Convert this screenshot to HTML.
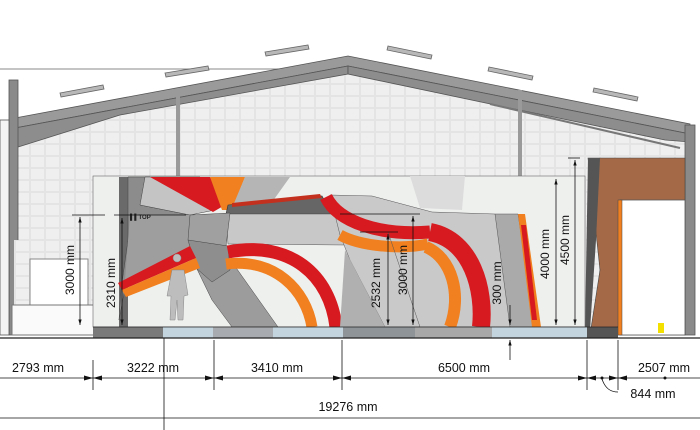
<!DOCTYPE html>
<html><head><meta charset="utf-8"><style>
html,body{margin:0;padding:0;background:#fff;}
svg{display:block;font-family:"Liberation Sans",sans-serif;}
</style></head><body>
<svg width="700" height="430" viewBox="0 0 700 430" xmlns="http://www.w3.org/2000/svg">
<defs>
<pattern id="brick" width="15" height="12" patternUnits="userSpaceOnUse">
<rect width="15" height="12" fill="#e6e6e6"/>
<rect x="0.7" y="0.7" width="13.6" height="10.6" fill="#efefef" stroke="#e2e2e2" stroke-width="0.5"/>
</pattern>
<marker id="ar" viewBox="0 0 10 10" refX="10" refY="5" markerWidth="7" markerHeight="7" orient="auto-start-reverse"><path d="M0,2 L10,5 L0,8z" fill="#111"/></marker>
</defs>
<rect width="700" height="430" fill="#fff"/>
<polygon points="18,130 348,62 688,130 688,335 18,335" fill="url(#brick)"/>
<line x1="0" y1="69" x2="335" y2="69" stroke="#888" stroke-width="1"/>
<g fill="#b8b8b8" stroke="#666" stroke-width="0.8">
<polygon points="60,93 103,85 104,89 61,97"/>
<polygon points="165,73 208,66 209,70 166,77"/>
<polygon points="265,52 308,45 309,49 266,56"/>
<polygon points="388,46 432,55 431,59 387,50"/>
<polygon points="489,67 533,76 532,80 488,71"/>
<polygon points="594,88 638,97 637,101 593,92"/>
</g>
<polygon points="15,118 348,56 690,124 690,134 348,66 15,128" fill="#9a9a9a" stroke="#555" stroke-width="0.8"/>
<polygon points="15,128 348,66 348,74 120,115 15,148" fill="#8d8d8d" stroke="#555" stroke-width="0.8"/>
<polygon points="348,66 690,134 690,142 665,140 500,106 348,74" fill="#8d8d8d" stroke="#555" stroke-width="0.8"/>
<line x1="490" y1="104" x2="680" y2="148" stroke="#777" stroke-width="2"/>
<rect x="9" y="80" width="9" height="255" fill="#8a8a8a" stroke="#555" stroke-width="0.8"/>
<rect x="176" y="90" width="4" height="245" fill="#9a9a9a"/>
<rect x="518" y="90" width="4" height="245" fill="#9a9a9a"/>
<rect x="685" y="125" width="10" height="210" fill="#8a8a8a" stroke="#555" stroke-width="0.8"/>
<rect x="0" y="120" width="9" height="215" fill="#f4f4f4" stroke="#555" stroke-width="0.8"/>
<rect x="14" y="240" width="80" height="95" fill="url(#brick)"/>
<rect x="30" y="259" width="58" height="47" fill="#fff" stroke="#888" stroke-width="1"/>
<rect x="12" y="305" width="84" height="30" fill="#fafafa" stroke="#777" stroke-width="1"/>
<rect x="93" y="176" width="492" height="151" fill="#eef0ee" stroke="#666" stroke-width="0.6"/>
<polygon points="410,176 465,176 462,210 420,208" fill="#dcdcdc"/>
<rect x="119" y="177" width="9" height="150" fill="#6a6a6a"/>
<polygon points="128,177 150,177 140,205 190,215 190,250 125,288 119,320 121,290 128,240" fill="#8c8c8c" stroke="#444" stroke-width="0.5"/>
<polygon points="145,177 200,177 215,210 190,215 140,205" fill="#c4c4c4" stroke="#444" stroke-width="0.5"/>
<polygon points="150,177 210,177 225,205 213,212" fill="#d61a1f"/>
<polygon points="210,177 245,177 232,210 222,210" fill="#f08020"/>
<polygon points="245,177 290,177 270,205 232,208" fill="#b5b5b5"/>
<polygon points="130,215 190,215 190,250 125,280" fill="#9e9e9e"/>
<polygon points="228,205 322,196 332,214 226,214" fill="#666" stroke="#333" stroke-width="0.6"/>
<polygon points="232,203 320,194 322,198 232,207" fill="#c3301e"/>
<polygon points="226,214 340,214 345,245 228,244" fill="#c8c8c8" stroke="#555" stroke-width="0.5"/>
<polygon points="190,215 230,213 226,246 205,252 188,240" fill="#a0a0a0" stroke="#444" stroke-width="0.5"/>
<text x="130" y="219" font-size="6" font-weight="bold" fill="#222">▌▌TOP</text>
<text x="197" y="250" font-size="5" font-weight="bold" fill="#222">TOP</text>
<polygon points="195,265 232,262 278,327 232,327 212,300" fill="#9c9c9c" stroke="#444" stroke-width="0.5"/>
<polygon points="188,240 228,246 230,270 212,282 196,268" fill="#8e8e8e" stroke="#444" stroke-width="0.5"/>
<polygon points="118,283 190,246 196,258 122,290" fill="#d61a1f"/>
<polygon points="122,290 196,258 200,268 126,297" fill="#f08020"/>
<path d="M228,252 C290,240 330,275 336,327" fill="none" stroke="#d61a1f" stroke-width="13"/>
<path d="M226,264 C275,258 306,290 312,327" fill="none" stroke="#f08020" stroke-width="11"/>
<path d="M177,262 a4,4 0 1,1 0.1,0 M172,270 L184,270 L188,295 L184,296 L183,320 L178,320 L177,300 L175,320 L170,320 L171,296 L167,296z" fill="#bdbdbd" stroke="#888" stroke-width="0.5"/>
<polygon points="330,195 372,196 432,212 495,214 528,327 385,327 350,260 340,235" fill="#c9c9c9" stroke="#555" stroke-width="0.5"/>
<polygon points="345,250 385,327 340,327" fill="#b0b0b0"/>
<polygon points="495,214 518,214 535,327 510,327" fill="#aaaaaa" stroke="#555" stroke-width="0.5"/>
<polygon points="518,214 525,214 541,327 532,327" fill="#f08020"/>
<polygon points="521,225 526,225 537,320 532,320" fill="#d61a1f"/>
<path d="M326,197 C338,222 380,236 430,232" fill="none" stroke="#d61a1f" stroke-width="13"/>
<path d="M340,235 C360,246 400,250 428,244" fill="none" stroke="#f08020" stroke-width="11"/>
<path d="M430,232 C472,240 485,290 481,327" fill="none" stroke="#d61a1f" stroke-width="18"/>
<path d="M426,247 C452,258 462,295 450,327" fill="none" stroke="#f08020" stroke-width="12"/>
<line x1="388" y1="232" x2="420" y2="327" stroke="#555" stroke-width="0.5"/>
<polygon points="588,158 685,158 685,335 590,335 600,270" fill="#a46a48" stroke="#444" stroke-width="0.6"/>
<polygon points="588,158 600,158 596,240 590,330 585,330" fill="#555"/>
<rect x="620" y="200" width="65" height="135" fill="#fff" stroke="#555" stroke-width="0.8"/>
<rect x="618" y="200" width="4" height="135" fill="#f08020" stroke="#444" stroke-width="0.5"/>
<rect x="658" y="323" width="6" height="10" fill="#f4e000"/>
<rect x="93" y="327" width="70" height="11" fill="#7a7a7a"/>
<rect x="163" y="327" width="180" height="11" fill="#c4d4de"/>
<rect x="213" y="327" width="60" height="11" fill="#a8acb0"/>
<rect x="343" y="327" width="72" height="11" fill="#8e9498"/>
<rect x="415" y="327" width="80" height="11" fill="#a8a8a8"/>
<rect x="492" y="327" width="95" height="11" fill="#c4d4de"/>
<rect x="587" y="327" width="31" height="11" fill="#555"/>
<line x1="0" y1="338" x2="700" y2="338" stroke="#222" stroke-width="1.2"/>
<line x1="93" y1="327" x2="618" y2="327" stroke="#222" stroke-width="0.8"/>
<g stroke="#111" stroke-width="0.8" fill="none">
<line x1="72" y1="215" x2="105" y2="215"/>
<line x1="80" y1="217" x2="80" y2="325" marker-start="url(#ar)" marker-end="url(#ar)"/>
<line x1="114" y1="215" x2="186" y2="215"/>
<line x1="122" y1="218" x2="122" y2="325" marker-start="url(#ar)" marker-end="url(#ar)"/>
<line x1="360" y1="232" x2="398" y2="232"/>
<line x1="388" y1="234" x2="388" y2="325" marker-start="url(#ar)" marker-end="url(#ar)"/>
<line x1="340" y1="214" x2="420" y2="214"/>
<line x1="413" y1="216" x2="413" y2="325" marker-start="url(#ar)" marker-end="url(#ar)"/>
<line x1="510" y1="305" x2="510" y2="325" marker-end="url(#ar)"/>
<line x1="510" y1="360" x2="510" y2="340" marker-end="url(#ar)"/>
<line x1="556" y1="179" x2="556" y2="325" marker-start="url(#ar)" marker-end="url(#ar)"/>
<line x1="575" y1="160" x2="575" y2="325" marker-start="url(#ar)" marker-end="url(#ar)"/>
<line x1="568" y1="158" x2="580" y2="158"/>
</g>
<g font-size="12" fill="#111">
<text transform="translate(74,270) rotate(-90)" text-anchor="middle">3000 mm</text>
<text transform="translate(115,283) rotate(-90)" text-anchor="middle">2310 mm</text>
<text transform="translate(380,283) rotate(-90)" text-anchor="middle">2532 mm</text>
<text transform="translate(407,270) rotate(-90)" text-anchor="middle">3000 mm</text>
<text transform="translate(501,283) rotate(-90)" text-anchor="middle">300 mm</text>
<text transform="translate(549,254) rotate(-90)" text-anchor="middle">4000 mm</text>
<text transform="translate(569,240) rotate(-90)" text-anchor="middle">4500 mm</text>
</g>
<g stroke="#111" stroke-width="0.8" fill="none">
<line x1="0" y1="378" x2="700" y2="378"/>
<line x1="93" y1="360" x2="93" y2="390"/>
<line x1="214" y1="340" x2="214" y2="390"/>
<line x1="342" y1="340" x2="342" y2="390"/>
<line x1="587" y1="340" x2="587" y2="390"/>
<line x1="618" y1="340" x2="618" y2="390"/>
<line x1="164" y1="338" x2="164" y2="430"/>
<line x1="0" y1="418" x2="700" y2="418"/>
<path d="M602,379 C605,388 610,392 618,392"/>
</g>
<g fill="#111">
<path d="M93,378 l-9,-2.5 v5z M93,378 l9,-2.5 v5z M214,378 l-9,-2.5 v5z M214,378 l9,-2.5 v5z M342,378 l-9,-2.5 v5z M342,378 l9,-2.5 v5z M587,378 l-9,-2.5 v5z M587,378 l9,-2.5 v5z M618,378 l-9,-2.5 v5z M618,378 l9,-2.5 v5z"/>
<circle cx="602" cy="378" r="1.5"/><circle cx="665" cy="378" r="1.5"/>
</g>
<g font-size="12.5" fill="#111">
<text x="38" y="372" text-anchor="middle">2793 mm</text>
<text x="153" y="372" text-anchor="middle">3222 mm</text>
<text x="277" y="372" text-anchor="middle">3410 mm</text>
<text x="464" y="372" text-anchor="middle">6500 mm</text>
<text x="664" y="372" text-anchor="middle">2507 mm</text>
<text x="653" y="398" text-anchor="middle">844 mm</text>
<text x="348" y="411" text-anchor="middle">19276 mm</text>
</g>
</svg>
</body></html>
